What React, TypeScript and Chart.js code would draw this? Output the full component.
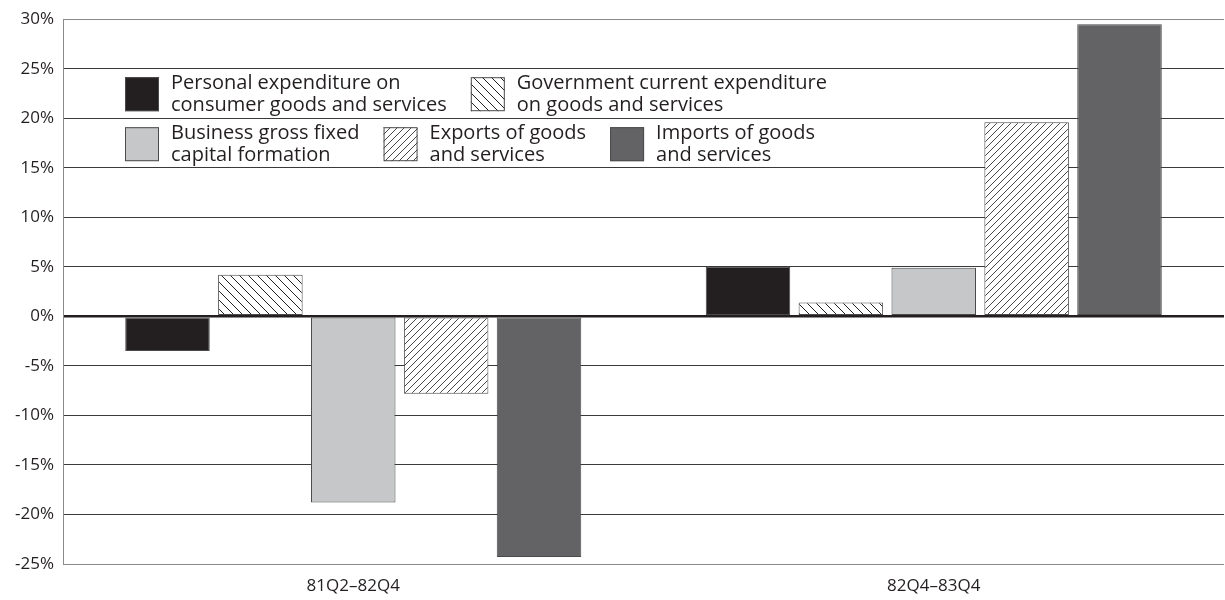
import React, { useEffect, useRef } from 'react';
import { Chart, registerables } from 'chart.js';

Chart.register(...registerables);

const categories = ['81Q2–82Q4', '82Q4–83Q4'];
const personalExp = [-3.5, 5.0];
const governmentExp = [4.2, 1.4];
const businessGfcf = [-18.8, 4.9];
const exportsGs = [-7.8, 19.6];
const importsGs = [-24.3, 29.5];

const seriesLabels: string[][] = [
  ['Personal expenditure on', 'consumer goods and services'],
  ['Government current expenditure', 'on goods and services'],
  ['Business gross fixed', 'capital formation'],
  ['Exports of goods', 'and services'],
  ['Imports of goods', 'and services'],
];
const legendRows = [[0, 1], [2, 3, 4]];

const yMin = -25;
const yMax = 30;
const yStep = 5;

const FONT = '"Open Sans", "Noto Sans", sans-serif';
const TEXT = '#231f20';

function hatch(dir: 'back' | 'fwd', size: number, color: string, lw: number) {
  const c = document.createElement('canvas');
  c.width = size;
  c.height = size;
  const g = c.getContext('2d')!;
  g.fillStyle = '#ffffff';
  g.fillRect(0, 0, size, size);
  g.strokeStyle = color;
  g.lineWidth = lw;
  g.beginPath();
  for (const o of [-size, 0, size]) {
    if (dir === 'back') {
      g.moveTo(o, 0);
      g.lineTo(o + size, size);
    } else {
      g.moveTo(o, size);
      g.lineTo(o + size, 0);
    }
  }
  g.stroke();
  return g.createPattern(c, 'repeat')!;
}

const legendPlugin = {
  id: 'customLegend',
  afterDraw(chart: any) {
    const ctx = chart.ctx as CanvasRenderingContext2D;
    const ds = chart.data.datasets;
    const area = chart.chartArea;
    ctx.save();
    ctx.font = `20px ${FONT}`;
    ctx.textBaseline = 'middle';
    const box = 34;
    const x0 = area.left + 62;
    const rowTops = [area.top + 58, area.top + 108];
    legendRows.forEach((row, ri) => {
      let x = x0;
      const y = rowTops[ri];
      row.forEach((i) => {
        ctx.fillStyle = ds[i].backgroundColor;
        ctx.fillRect(x, y, box, box);
        ctx.strokeStyle = '#4a4a4a';
        ctx.lineWidth = 1;
        ctx.strokeRect(x + 0.5, y + 0.5, box - 1, box - 1);
        ctx.fillStyle = TEXT;
        const lines = seriesLabels[i];
        lines.forEach((l, li) => ctx.fillText(l, x + box + 12, y + 6 + li * 22));
        const w = Math.max(...lines.map((l) => ctx.measureText(l).width));
        x += box + 12 + w + 24;
      });
    });
    ctx.restore();
  },
};

export default function App() {
  const ref = useRef<HTMLCanvasElement>(null);
  useEffect(() => {
    if (!ref.current) return;
    const govPat = hatch('back', 9, '#222222', 1);
    const expPat = hatch('fwd', 7, '#333333', 0.9);
    const colors: any[] = ['#231f20', govPat, '#c6c7c8', expPat, '#636365'];
    const values = [personalExp, governmentExp, businessGfcf, exportsGs, importsGs];
    const chart = new Chart(ref.current, {
      type: 'bar',
      data: {
        labels: categories,
        datasets: values.map((v, i) => ({
          label: seriesLabels[i].join(' '),
          data: v,
          backgroundColor: colors[i],
          borderColor: '#4a4a4a',
          borderWidth: 1,
          borderSkipped: false,
          categoryPercentage: 0.8,
          barPercentage: 0.91,
        })),
      },
      options: {
        animation: false,
        responsive: true,
        maintainAspectRatio: false,
        layout: { autoPadding: false, padding: { top: 15, right: 1, left: 0, bottom: 0 } },
        plugins: {
          legend: { display: false },
          tooltip: { enabled: false },
        },
        scales: {
          x: {
            grid: { display: false },
            border: { display: false },
            ticks: { font: { family: FONT, size: 17 }, color: TEXT, padding: 4 },
            afterFit: (s: any) => {
              s.height = 36;
            },
          },
          y: {
            min: yMin,
            max: yMax,
            ticks: {
              stepSize: yStep,
              callback: (v: any) => `${v}%`,
              font: { family: FONT, size: 17 },
              color: TEXT,
              padding: 9,
            },
            grid: {
              drawTicks: false,
              color: (c: any) =>
                c.tick && c.tick.value === 0
                  ? '#231f20'
                  : c.tick && (c.tick.value === yMax || c.tick.value === yMin)
                  ? '#8a8a8a'
                  : '#3a3a3a',
              lineWidth: (c: any) => (c.tick && c.tick.value === 0 ? 2.5 : 1),
            },
            border: { color: '#8a8a8a', width: 1 },
            afterFit: (s: any) => {
              s.width = 63;
            },
          },
        },
      },
      plugins: [legendPlugin],
    });
    return () => chart.destroy();
  }, []);
  return (
    <div style={{ position: 'absolute', left: 0, top: 0, width: 1225, height: 600, background: '#fff' }}>
      <canvas ref={ref} />
    </div>
  );
}
